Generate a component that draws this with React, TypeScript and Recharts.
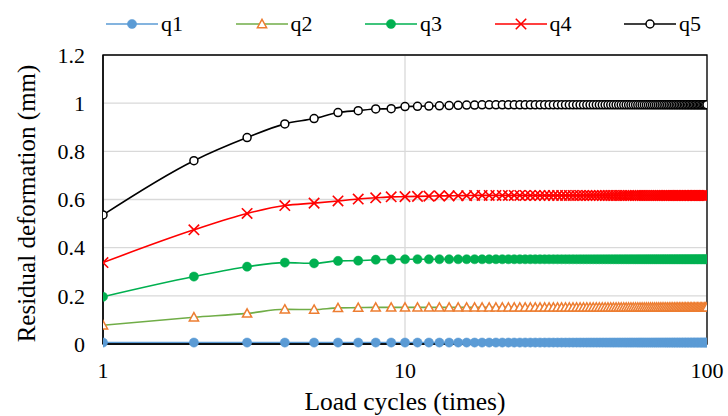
import React from 'react';
import { LineChart, Line, XAxis, YAxis, CartesianGrid, ReferenceArea } from 'recharts';

const cycles = [
  1, 2, 3, 4, 5, 6, 7, 8, 9, 10,
  11, 12, 13, 14, 15, 16, 17, 18, 19, 20,
  21, 22, 23, 24, 25, 26, 27, 28, 29, 30,
  31, 32, 33, 34, 35, 36, 37, 38, 39, 40,
  41, 42, 43, 44, 45, 46, 47, 48, 49, 50,
  51, 52, 53, 54, 55, 56, 57, 58, 59, 60,
  61, 62, 63, 64, 65, 66, 67, 68, 69, 70,
  71, 72, 73, 74, 75, 76, 77, 78, 79, 80,
  81, 82, 83, 84, 85, 86, 87, 88, 89, 90,
  91, 92, 93, 94, 95, 96, 97, 98, 99, 100,
];

const q1 = [
  0.006, 0.006, 0.006, 0.006, 0.006, 0.006, 0.006, 0.006, 0.006, 0.006,
  0.006, 0.006, 0.006, 0.006, 0.006, 0.006, 0.006, 0.006, 0.006, 0.006,
  0.006, 0.006, 0.006, 0.006, 0.006, 0.006, 0.006, 0.006, 0.006, 0.006,
  0.006, 0.006, 0.006, 0.006, 0.006, 0.006, 0.006, 0.006, 0.006, 0.006,
  0.006, 0.006, 0.006, 0.006, 0.006, 0.006, 0.006, 0.006, 0.006, 0.006,
  0.006, 0.006, 0.006, 0.006, 0.006, 0.006, 0.006, 0.006, 0.006, 0.006,
  0.006, 0.006, 0.006, 0.006, 0.006, 0.006, 0.006, 0.006, 0.006, 0.006,
  0.006, 0.006, 0.006, 0.006, 0.006, 0.006, 0.006, 0.006, 0.006, 0.006,
  0.006, 0.006, 0.006, 0.006, 0.006, 0.006, 0.006, 0.006, 0.006, 0.006,
  0.006, 0.006, 0.006, 0.006, 0.006, 0.006, 0.006, 0.006, 0.006, 0.006,
];

const q2 = [
  0.078, 0.111, 0.127, 0.144, 0.143, 0.150, 0.151, 0.152, 0.152, 0.152,
  0.152, 0.152, 0.152, 0.152, 0.152, 0.152, 0.152, 0.152, 0.152, 0.152,
  0.152, 0.152, 0.152, 0.152, 0.152, 0.152, 0.152, 0.152, 0.152, 0.152,
  0.152, 0.152, 0.152, 0.152, 0.152, 0.152, 0.152, 0.152, 0.152, 0.152,
  0.152, 0.152, 0.152, 0.152, 0.152, 0.152, 0.152, 0.152, 0.152, 0.152,
  0.152, 0.152, 0.152, 0.152, 0.152, 0.152, 0.152, 0.152, 0.152, 0.152,
  0.152, 0.152, 0.152, 0.152, 0.152, 0.152, 0.152, 0.152, 0.152, 0.152,
  0.152, 0.152, 0.152, 0.152, 0.152, 0.152, 0.152, 0.152, 0.152, 0.152,
  0.152, 0.152, 0.152, 0.152, 0.152, 0.152, 0.152, 0.152, 0.152, 0.152,
  0.152, 0.152, 0.152, 0.152, 0.152, 0.152, 0.152, 0.152, 0.152, 0.152,
];

const q3 = [
  0.196, 0.280, 0.321, 0.338, 0.335, 0.345, 0.346, 0.350, 0.351, 0.352,
  0.352, 0.352, 0.352, 0.352, 0.352, 0.352, 0.352, 0.352, 0.352, 0.352,
  0.352, 0.352, 0.352, 0.352, 0.352, 0.352, 0.352, 0.352, 0.352, 0.352,
  0.352, 0.352, 0.352, 0.352, 0.352, 0.352, 0.352, 0.352, 0.352, 0.352,
  0.352, 0.352, 0.352, 0.352, 0.352, 0.352, 0.352, 0.352, 0.352, 0.352,
  0.352, 0.352, 0.352, 0.352, 0.352, 0.352, 0.352, 0.352, 0.352, 0.352,
  0.352, 0.352, 0.352, 0.352, 0.352, 0.352, 0.352, 0.352, 0.352, 0.352,
  0.352, 0.352, 0.352, 0.352, 0.352, 0.352, 0.352, 0.352, 0.352, 0.352,
  0.352, 0.352, 0.352, 0.352, 0.352, 0.352, 0.352, 0.352, 0.352, 0.352,
  0.352, 0.352, 0.352, 0.352, 0.352, 0.352, 0.352, 0.352, 0.352, 0.352,
];

const q4 = [
  0.338, 0.474, 0.542, 0.575, 0.585, 0.594, 0.602, 0.607, 0.611, 0.612,
  0.613, 0.614, 0.615, 0.615, 0.616, 0.616, 0.617, 0.617, 0.617, 0.617,
  0.617, 0.617, 0.617, 0.617, 0.617, 0.617, 0.617, 0.617, 0.617, 0.617,
  0.617, 0.617, 0.617, 0.617, 0.617, 0.617, 0.617, 0.617, 0.617, 0.617,
  0.617, 0.617, 0.617, 0.617, 0.617, 0.617, 0.617, 0.617, 0.617, 0.617,
  0.617, 0.617, 0.617, 0.617, 0.617, 0.617, 0.617, 0.617, 0.617, 0.617,
  0.617, 0.617, 0.617, 0.617, 0.617, 0.617, 0.617, 0.617, 0.617, 0.617,
  0.617, 0.617, 0.617, 0.617, 0.617, 0.617, 0.617, 0.617, 0.617, 0.617,
  0.617, 0.617, 0.617, 0.617, 0.617, 0.617, 0.617, 0.617, 0.617, 0.617,
  0.617, 0.617, 0.617, 0.617, 0.617, 0.617, 0.617, 0.617, 0.617, 0.617,
];

const q5 = [
  0.536, 0.761, 0.857, 0.914, 0.936, 0.961, 0.969, 0.976, 0.977, 0.986,
  0.987, 0.988, 0.989, 0.990, 0.991, 0.992, 0.992, 0.993, 0.993, 0.993,
  0.993, 0.993, 0.993, 0.993, 0.993, 0.993, 0.993, 0.993, 0.993, 0.993,
  0.993, 0.993, 0.993, 0.993, 0.993, 0.993, 0.993, 0.993, 0.993, 0.993,
  0.993, 0.993, 0.993, 0.993, 0.993, 0.993, 0.993, 0.993, 0.993, 0.993,
  0.993, 0.993, 0.993, 0.993, 0.993, 0.993, 0.993, 0.993, 0.993, 0.993,
  0.993, 0.993, 0.993, 0.993, 0.993, 0.993, 0.993, 0.993, 0.993, 0.993,
  0.993, 0.993, 0.993, 0.993, 0.993, 0.993, 0.993, 0.993, 0.993, 0.993,
  0.993, 0.993, 0.993, 0.993, 0.993, 0.993, 0.993, 0.993, 0.993, 0.993,
  0.993, 0.993, 0.993, 0.993, 0.993, 0.993, 0.993, 0.993, 0.993, 0.993,
];

const xTicks = [1, 10, 100];
const yTicks = [0, 0.2, 0.4, 0.6, 0.8, 1, 1.2];

const data = cycles.map((x, i) => ({ x, q1: q1[i], q2: q2[i], q3: q3[i], q4: q4[i], q5: q5[i] }));

const FONT = '"Liberation Serif"';

type Shape = 'fcircle' | 'triangle' | 'x' | 'ocircle';

const drawMarker = (shape: Shape, color: string, cx: number, cy: number, key?: any) => {
  if (cx == null || cy == null || isNaN(cx) || isNaN(cy)) return <g key={key} />;
  if (shape === 'fcircle') return <circle key={key} cx={cx} cy={cy} r={4.6} fill={color} stroke={color} strokeWidth={0.5} />;
  if (shape === 'ocircle') return <circle key={key} cx={cx} cy={cy} r={4} fill="#fff" stroke={color} strokeWidth={1.5} />;
  if (shape === 'triangle') {
    const s = 4.6;
    return (
      <polygon key={key} points={`${cx},${cy - s} ${cx + s},${cy + s * 0.8} ${cx - s},${cy + s * 0.8}`}
        fill="#fff" stroke={color} strokeWidth={1.5} />
    );
  }
  const s = 5.2;
  return (
    <g key={key}>
      <line x1={cx - s} y1={cy - s} x2={cx + s} y2={cy + s} stroke={color} strokeWidth={1.6} />
      <line x1={cx - s} y1={cy + s} x2={cx + s} y2={cy - s} stroke={color} strokeWidth={1.6} />
    </g>
  );
};

const series = [
  { key: 'q1', line: '#5B9BD5', marker: '#5B9BD5', shape: 'fcircle' as Shape },
  { key: 'q2', line: '#70AD47', marker: '#ED7D31', shape: 'triangle' as Shape },
  { key: 'q3', line: '#00B050', marker: '#00B050', shape: 'fcircle' as Shape },
  { key: 'q4', line: '#FF0000', marker: '#FF0000', shape: 'x' as Shape },
  { key: 'q5', line: '#000000', marker: '#000000', shape: 'ocircle' as Shape },
];

const LegendBlock = () => (
  <div style={{ position: 'absolute', left: 0, top: 13, width: 728, display: 'flex', paddingLeft: 106,
    fontFamily: FONT, fontSize: 22, color: '#000', boxSizing: 'border-box' }}>
    {series.map((s) => (
      <div key={s.key} style={{ display: 'flex', alignItems: 'center', width: 129.5, flex: 'none' }}>
        <svg width={52} height={22} style={{ overflow: 'visible', flex: 'none' }}>
          <line x1={0} y1={11} x2={52} y2={11} stroke={s.line} strokeWidth={1.6} />
          {drawMarker(s.shape, s.marker, 26, 11)}
        </svg>
        <span style={{ marginLeft: 3, lineHeight: '22px' }}>{s.key}</span>
      </div>
    ))}
  </div>
);

const YTitle = (props: any) => {
  const vb = props.viewBox || {};
  const x = 26;
  const y = (vb.y || 0) + (vb.height || 0) / 2 + 4;
  return (
    <text x={x} y={y} transform={`rotate(-90, ${x}, ${y})`} textAnchor="middle" dominantBaseline="central"
      fontFamily={FONT} fontSize={25} fill="#000">
      Residual deformation (mm)
    </text>
  );
};

const XTitle = (props: any) => {
  const vb = props.viewBox || {};
  const x = (vb.x || 0) + (vb.width || 0) / 2;
  const y = 401;
  return (
    <text x={x} y={y} textAnchor="middle" dominantBaseline="central" fontFamily={FONT} fontSize={25.5} fill="#000">
      Load cycles (times)
    </text>
  );
};

export default function App() {
  return (
    <div style={{ position: 'absolute', left: 0, top: 0, width: 728, height: 416, background: '#fff', fontFamily: FONT }}>
      <LineChart width={728} height={416} data={data} margin={{ top: 55, right: 21, bottom: 0, left: 0 }}>
        <CartesianGrid stroke="#d9d9d9" strokeWidth={1.3} />
        <XAxis dataKey="x" type="number" scale="log" domain={[1, 100]} ticks={xTicks} allowDataOverflow
          height={72} tickLine={false} tickSize={6} tickMargin={12} axisLine={{ stroke: '#000', strokeWidth: 1.3 }}
          tick={{ fontFamily: FONT, fontSize: 22, fill: '#000' }} label={<XTitle />} />
        <YAxis type="number" domain={[0, 1.2]} ticks={yTicks} width={103} tickLine={false} tickSize={6} tickMargin={12}
          axisLine={{ stroke: '#000', strokeWidth: 1.3 }} tick={{ fontFamily: FONT, fontSize: 22, fill: '#000' }}
          label={<YTitle />} />
        <ReferenceArea x1={1} x2={100} y1={0} y2={1.2} fill="none" stroke="#000" strokeWidth={1.3} fillOpacity={0} />
        {series.map((s) => (
          <Line key={s.key} dataKey={s.key} type="monotone" stroke={s.line} strokeWidth={1.6}
            isAnimationActive={false}
            dot={(p: any) => drawMarker(s.shape, s.marker, p.cx, p.cy, `${s.key}-${p.index}`)}
            activeDot={false} />
        ))}
      </LineChart>
      <LegendBlock />
    </div>
  );
}
